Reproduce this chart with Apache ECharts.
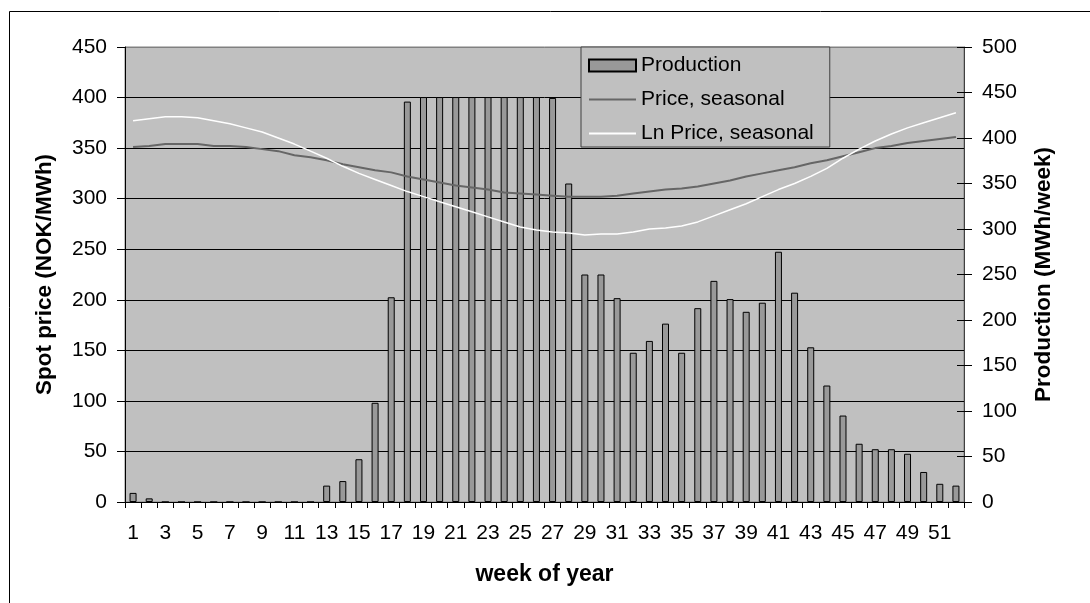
<!DOCTYPE html>
<html>
<head>
<meta charset="utf-8">
<script src="https://cdn.jsdelivr.net/npm/echarts@6/dist/echarts.min.js"></script>
<style>
  html, body { margin: 0; padding: 0; background: #ffffff; }
  #chart { width: 1090px; height: 603px; }
</style>
</head>
<body>
<div id="chart"></div>
<script>
// Week numbers on the category axis
const weeks = Array.from({ length: 52 }, (_, i) => String(i + 1));

// Weekly production (MWh/week), right axis
const production = [
  10, 4, 0, 0, 0, 0, 0, 0, 0, 0,
  0, 0, 18, 23, 47, 109, 225, 440, 445, 445,
  445, 445, 445, 445, 445, 445, 444, 350, 250, 250,
  224, 164, 177, 196, 164, 213, 243, 223, 209, 219,
  275, 230, 170, 128, 95, 64, 58, 58, 53, 33,
  20, 18
];

// Seasonal spot price (NOK/MWh), left axis
const priceSeasonal = [
  351, 352, 354, 354, 354, 352, 352, 351, 349, 347,
  343, 341, 338, 334, 331, 328, 326, 322, 319, 316,
  313, 311, 309, 306, 305, 304, 303, 302, 302, 302,
  303, 305, 307, 309, 310, 312, 315, 318, 322, 325,
  328, 331, 335, 338, 342, 346, 350, 352, 355, 357,
  359, 361
];

// Seasonal price from the log model (NOK/MWh), left axis
const lnPriceSeasonal = [
  377, 379, 381, 381, 380, 377, 374, 370, 366, 360,
  354, 347, 340, 332, 325, 319, 313, 307, 302, 297,
  292, 287, 282, 277, 272, 269, 267, 266, 264, 265,
  265, 267, 270, 271, 273, 277, 283, 289, 295, 302,
  309, 315, 322, 330, 340, 349, 357, 364, 370, 375,
  380, 385
];

const FONT = "'Liberation Sans', Arial, sans-serif";
const gridColors = ['#000', '#000', '#000', '#000', '#000', '#000', '#000', '#000', '#000', '#808080'];
// Plain line swatch for the legend: a 2px bar centred in a 47x12 box
const LINE_ICON = 'path://M0,0L0.01,0L0,0.01Z M0,5L47,5L47,7L0,7Z M47,12L46.99,12L47,11.99Z';

const chart = echarts.init(document.getElementById('chart'), null, { renderer: 'canvas' });

chart.setOption({
  animation: false,
  backgroundColor: '#ffffff',
  textStyle: { fontFamily: FONT, color: '#000' },
  graphic: [{
    type: 'rect',
    silent: true,
    shape: { x: 9.5, y: 11.5, width: 1200, height: 700 },
    style: { fill: 'none', stroke: '#000', lineWidth: 1 }
  }],
  grid: {
    left: 125, right: 126, top: 47, bottom: 101,
    show: true,
    backgroundColor: '#C0C0C0',
    borderColor: '#808080',
    borderWidth: 1
  },
  legend: {
    orient: 'vertical',
    left: 581,
    top: 47,
    padding: [8, 16, 3, 7],
    itemGap: 13,
    itemWidth: 47,
    itemHeight: 12,
    itemTextGap: 10,
    backgroundColor: '#C0C0C0',
    borderColor: '#404040',
    borderWidth: 1,
    textStyle: { fontFamily: FONT, fontSize: 21, lineHeight: 21, color: '#000' },
    data: [
      { name: 'Production', icon: 'rect' },
      { name: 'Price, seasonal', icon: LINE_ICON, itemStyle: { color: '#666666', borderWidth: 0 } },
      { name: 'Ln Price, seasonal', icon: LINE_ICON, itemStyle: { color: '#ffffff', borderWidth: 0 } }
    ]
  },
  xAxis: {
    type: 'category',
    data: weeks,
    name: 'week of year',
    nameLocation: 'middle',
    nameGap: 61,
    nameTextStyle: { fontFamily: FONT, fontSize: 23, fontWeight: 'bold', color: '#000' },
    axisLine: { lineStyle: { color: '#000', width: 1 } },
    axisTick: { show: true, interval: 0, length: 6, lineStyle: { color: '#000' } },
    axisLabel: { interval: 1, fontFamily: FONT, fontSize: 21, color: '#000', margin: 21 },
    splitLine: { show: false }
  },
  yAxis: [
    {
      type: 'value',
      position: 'left',
      min: 0, max: 450, interval: 50,
      name: 'Spot price (NOK/MWh)',
      nameLocation: 'middle',
      nameGap: 69,
      nameTextStyle: { fontFamily: FONT, fontSize: 22.5, fontWeight: 'bold', color: '#000' },
      axisLine: { show: true, lineStyle: { color: '#000' } },
      axisTick: { show: true, length: 8, lineStyle: { color: '#000' } },
      axisLabel: { fontFamily: FONT, fontSize: 21, color: '#000', margin: 18 },
      splitLine: { show: true, lineStyle: { color: gridColors, width: 1 } }
    },
    {
      type: 'value',
      position: 'right',
      min: 0, max: 500, interval: 50,
      name: 'Production (MWh/week)',
      nameLocation: 'middle',
      nameGap: 68,
      nameTextStyle: { fontFamily: FONT, fontSize: 22.5, fontWeight: 'bold', color: '#000' },
      axisLine: { show: true, lineStyle: { color: '#404040' } },
      axisTick: { show: true, length: 8, lineStyle: { color: '#000' } },
      axisLabel: { fontFamily: FONT, fontSize: 21, color: '#000', margin: 18 },
      splitLine: { show: false }
    },
    {
      // inner half of the crossing ticks on the production axis
      type: 'value',
      position: 'right',
      min: 0, max: 500, interval: 50,
      axisLine: { show: false },
      axisTick: { show: true, inside: true, length: 7, lineStyle: { color: '#000' } },
      axisLabel: { show: false },
      splitLine: { show: false }
    }
  ],
  series: [
    {
      name: 'Production',
      type: 'bar',
      yAxisIndex: 1,
      data: production,
      barWidth: 7,
      itemStyle: { color: '#999999', borderColor: '#000', borderWidth: 1 }
    },
    {
      name: 'Price, seasonal',
      type: 'line',
      yAxisIndex: 0,
      data: priceSeasonal,
      symbol: 'none',
      lineStyle: { color: '#666666', width: 2 },
      itemStyle: { color: '#666666' }
    },
    {
      name: 'Ln Price, seasonal',
      type: 'line',
      yAxisIndex: 0,
      data: lnPriceSeasonal,
      symbol: 'none',
      lineStyle: { color: '#ffffff', width: 1.5 },
      itemStyle: { color: '#ffffff' }
    }
  ]
});
</script>
</body>
</html>
